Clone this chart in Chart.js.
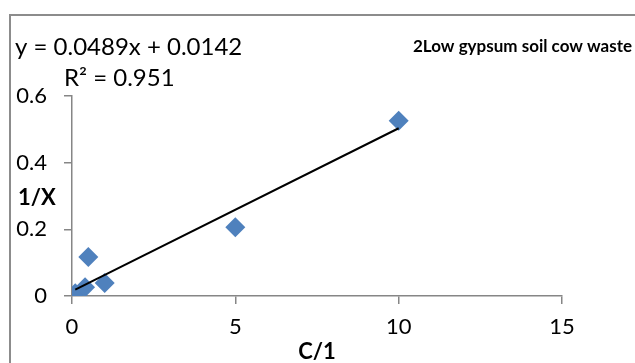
<!DOCTYPE html>
<html><head><meta charset="utf-8">
<script src="https://cdn.jsdelivr.net/npm/chart.js@4/dist/chart.umd.min.js"></script>
<style>html,body{margin:0;padding:0;background:#fff}#wrap{width:635px;height:363px;position:relative}</style>
</head><body><div id="wrap"><canvas id="c" width="635" height="363"></canvas></div>
<script>
const xValues = [0.1, 0.4, 0.5, 1, 5, 10];
const yValues = [0.008, 0.026, 0.117, 0.039, 0.206, 0.526];
const xTicks = [0, 5, 10, 15];
const yTicks = [0, 0.2, 0.4, 0.6];
const trendSlope = 0.0489;
const trendIntercept = 0.0142;
const equationText = 'y = 0.0489x + 0.0142';
const r2Text = 'R² = 0.951';
const chartTitle = '2Low gypsum soil cow waste';
const xTitle = 'C/1';
const yTitle = '1/X';

const FONT = 'Lato, "Open Sans", sans-serif';
const AXIS = '#868686';

const points = xValues.map((x, i) => ({x, y: yValues[i]}));
const xMin = Math.min(...xValues), xMax = Math.max(...xValues);
const trend = [xMin, xMax].map(x => ({x, y: trendSlope * x + trendIntercept}));

const decor = {
  id: 'decor',
  afterDraw(chart) {
    const ctx = chart.ctx;
    ctx.save();
    ctx.strokeStyle = '#8c8c8c';
    ctx.lineWidth = 2;
    ctx.strokeRect(10, 15, 700, 400);
    ctx.fillStyle = '#000';
    ctx.textBaseline = 'middle';
    ctx.textAlign = 'left';
    ctx.font = '24px ' + FONT;
    ctx.fillText(equationText, 15, 47);
    ctx.fillText(r2Text, 64, 78);
    ctx.font = 'bold 17px ' + FONT;
    ctx.fillText(chartTitle, 413, 47);
    ctx.font = 'bold 22px ' + FONT;
    ctx.fillText(yTitle, 18, 198);
    ctx.restore();
  }
};

new Chart(document.getElementById('c'), {
  type: 'scatter',
  data: {
    datasets: [
      { type: 'line', data: trend, borderColor: '#000', borderWidth: 2, pointRadius: 0, order: 0 },
      { data: points, pointStyle: 'rectRot', pointRadius: 10, backgroundColor: '#4F81BD', borderColor: '#4F81BD', borderWidth: 0, order: 1 }
    ]
  },
  options: {
    responsive: false, animation: false, devicePixelRatio: 1,
    layout: { padding: { left: 0, top: 96, right: 73, bottom: 0 } },
    plugins: { legend: { display: false }, tooltip: { enabled: false } },
    scales: {
      x: {
        type: 'linear', min: 0, max: 15,
        afterBuildTicks: s => { s.ticks = xTicks.map(v => ({value: v})); },
        afterFit: s => { s.height = 67; },
        grid: { drawOnChartArea: false, drawTicks: true, tickLength: 8, color: AXIS, lineWidth: 1.5 },
        border: { display: true, color: AXIS, width: 1.5 },
        ticks: { font: { family: FONT, size: 22 }, color: '#000', padding: 10, maxRotation: 0 },
        title: { display: true, text: xTitle, font: { family: FONT, size: 22, weight: 'bold' }, color: '#000', padding: { top: 0, bottom: -2 } }
      },
      y: {
        type: 'linear', min: 0, max: 0.6,
        afterBuildTicks: s => { s.ticks = yTicks.map(v => ({value: v})); },
        afterFit: s => { s.width = 72; },
        grid: { drawOnChartArea: false, drawTicks: true, tickLength: 8, color: AXIS, lineWidth: 1.5 },
        border: { display: true, color: AXIS, width: 1.5 },
        ticks: { font: { family: FONT, size: 22 }, color: '#000', padding: 17, callback: v => String(+v.toFixed(1)) }
      }
    }
  },
  plugins: [decor]
});
</script></body></html>
